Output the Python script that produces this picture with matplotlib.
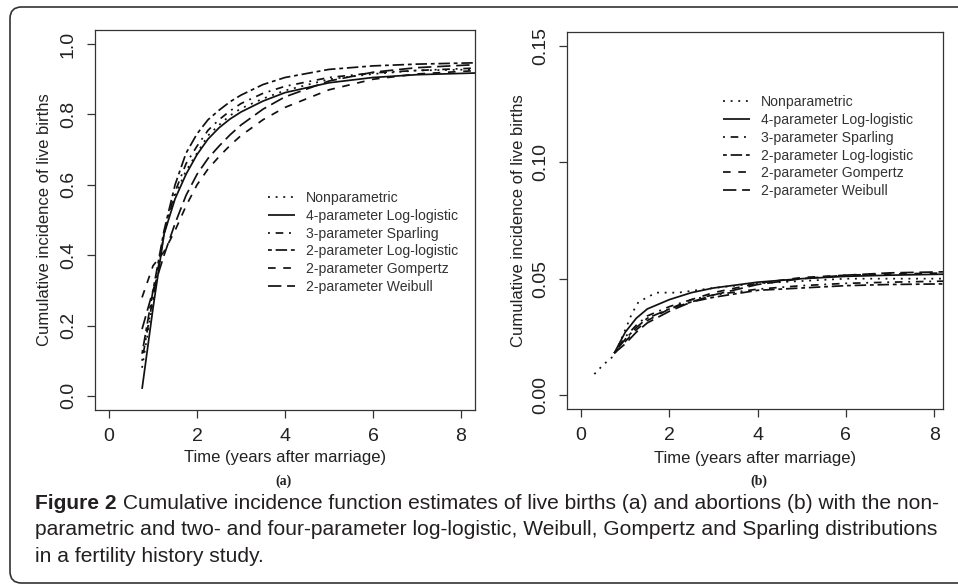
import numpy as np
import matplotlib
matplotlib.use('Agg')
import matplotlib.pyplot as plt
from matplotlib import font_manager
from matplotlib.patches import FancyBboxPatch

mpl = matplotlib
mpl.rcParams['font.family'] = ['Liberation Sans', 'DejaVu Sans']
mpl.rcParams['lines.solid_capstyle'] = 'butt'
mpl.rcParams['lines.dash_capstyle'] = 'butt'

## Data

labels = ['Nonparametric', '4-parameter Log-logistic', '3-parameter Sparling',
          '2-parameter Log-logistic', '2-parameter Gompertz', '2-parameter Weibull']

# panel (a): live births
t_a = [0.75, 1.0, 1.25, 1.5, 1.75, 2.0, 2.25, 2.5, 2.75, 3.0, 3.5, 4.0, 5.0, 6.0, 7.0, 8.4]
a_nonpar = [0.08, 0.27, 0.46, 0.57, 0.64, 0.69, 0.74, 0.77, 0.797, 0.817, 0.845, 0.868, 0.90, 0.915, 0.925, 0.928]
a_ll4 = [0.02, 0.25, 0.46, 0.56, 0.63, 0.686, 0.73, 0.762, 0.787, 0.807, 0.838, 0.862, 0.89, 0.905, 0.913, 0.918]
a_sparling = [0.10, 0.28, 0.46, 0.58, 0.66, 0.71, 0.755, 0.785, 0.81, 0.831, 0.86, 0.88, 0.905, 0.918, 0.925, 0.932]
a_ll2 = [0.12, 0.30, 0.47, 0.60, 0.69, 0.745, 0.785, 0.812, 0.836, 0.855, 0.885, 0.905, 0.928, 0.938, 0.943, 0.947]
a_gompertz = [0.28, 0.37, 0.41, 0.47, 0.54, 0.60, 0.645, 0.68, 0.712, 0.74, 0.785, 0.82, 0.87, 0.90, 0.915, 0.925]
a_weibull = [0.19, 0.30, 0.40, 0.49, 0.57, 0.63, 0.675, 0.71, 0.742, 0.77, 0.815, 0.85, 0.895, 0.92, 0.933, 0.942]

# panel (b): abortions
t_b = [0.75, 1.0, 1.25, 1.5, 2.0, 2.5, 3.0, 4.0, 5.0, 6.0, 7.0, 8.4]
t_b_nonpar = [0.3, 0.5, 0.75, 1.0, 1.15, 1.3, 1.5, 1.7, 2.2, 3.0, 4.0, 5.0, 6.0, 8.4]
b_nonpar = [0.009, 0.013, 0.017, 0.028, 0.035, 0.040, 0.042, 0.044, 0.044, 0.046, 0.048, 0.049, 0.050, 0.050]
b_ll4 = [0.018, 0.027, 0.033, 0.037, 0.041, 0.044, 0.046, 0.0485, 0.050, 0.051, 0.0515, 0.052]
b_sparling = [0.018, 0.025, 0.030, 0.034, 0.038, 0.041, 0.043, 0.0455, 0.047, 0.048, 0.0485, 0.049]
b_ll2 = [0.018, 0.024, 0.029, 0.033, 0.037, 0.040, 0.042, 0.045, 0.046, 0.047, 0.0475, 0.0478]
b_gompertz = [0.018, 0.023, 0.028, 0.032, 0.037, 0.041, 0.044, 0.048, 0.0505, 0.0515, 0.052, 0.0525]
b_weibull = [0.018, 0.022, 0.027, 0.031, 0.036, 0.040, 0.043, 0.0475, 0.050, 0.0515, 0.0525, 0.053]

caption_bold = 'Figure 2'
caption_lines = [' Cumulative incidence function estimates of live births (a) and abortions (b) with the non-',
                 'parametric and two- and four-parameter log-logistic, Weibull, Gompertz and Sparling distributions',
                 'in a fertility history study.']

## Styles (R lty 3, 1, 4, 6, 2, 5)
styles = [(0, (1.1, 3.3)), '-', (0, (1.1, 3.3, 4.4, 3.3)), (0, (2.2, 2.2, 6.6, 2.2)),
          (0, (4.4, 4.4)), (0, (7.7, 3.3))]
ink = '#111111'


def pick_font(cands):
    for c in cands:
        try:
            font_manager.findfont(c, fallback_to_default=False)
            return c
        except Exception:
            pass
    return 'DejaVu Sans'


def style_axes(ax, xlim, ylim, yticks, yfmt):
    ax.set_xlim(xlim)
    ax.set_ylim(ylim)
    ax.set_xticks([0, 2, 4, 6, 8])
    ax.set_yticks(yticks)
    ax.set_yticklabels([yfmt.format(v) for v in yticks], rotation=90, va='center')
    ax.tick_params(direction='out', length=6, width=0.9, color='#333333',
                   labelsize=14, labelcolor='#222222', pad=7)
    for s in ax.spines.values():
        s.set_color('#333333')
        s.set_linewidth(0.9)
    ax.set_xlabel('Time (years after marriage)', fontsize=12, color='#222222')
    ax.set_ylabel('Cumulative incidence of live births', fontsize=12, color='#222222')
    ax.xaxis.label.set_va('center')
    ax.yaxis.label.set_va('center')


fig = plt.figure(figsize=(9.58, 5.87), dpi=100)

# rounded frame, open past the right edge like the source crop
frame = FancyBboxPatch((10 / 958, 4 / 587), 1.05, 576 / 587, boxstyle='round,pad=0,rounding_size=0.012',
                       transform=fig.transFigure, fill=False, edgecolor='#333333', linewidth=1.2,
                       mutation_aspect=958 / 587)
fig.patches.append(frame)

axa = fig.add_axes([95 / 958, 177 / 587, 380 / 958, 380 / 587])
axb = fig.add_axes([567 / 958, 178 / 587, 376 / 958, 377 / 587])

series_a = [(t_a, a_nonpar), (t_a, a_ll4), (t_a, a_sparling), (t_a, a_ll2), (t_a, a_gompertz), (t_a, a_weibull)]
series_b = [(t_b_nonpar, b_nonpar), (t_b, b_ll4), (t_b, b_sparling), (t_b, b_ll2), (t_b, b_gompertz), (t_b, b_weibull)]

for ax, series in [(axa, series_a), (axb, series_b)]:
    for (x, y), ls, lab in zip(series, styles, labels):
        ax.plot(x, y, linestyle=ls, color=ink, lw=1.25, label=lab)

style_axes(axa, (-0.32, 8.32), (-0.04, 1.04), [0.0, 0.2, 0.4, 0.6, 0.8, 1.0], '{:.1f}')
style_axes(axb, (-0.32, 8.2), (-0.006, 0.156), [0.0, 0.05, 0.10, 0.15], '{:.2f}')
axa.xaxis.set_label_coords(0.5, -0.126)
axa.yaxis.set_label_coords(-0.132, 0.5)
axb.xaxis.set_label_coords(0.5, -0.13)
axb.yaxis.set_label_coords(-0.13, 0.5)

for ax, pos in [(axa, (0.455, 0.441)), (axb, (0.415, 0.696))]:
    leg = ax.legend(loc='center left', bbox_to_anchor=pos, frameon=False, fontsize=10.1,
                    handlelength=1.9, handletextpad=0.8, labelspacing=0.27,
                    borderpad=0, borderaxespad=0)
    for t in leg.get_texts():
        t.set_color('#333333')

fig.text(284 / 958, 1 - 481 / 587, '(a)', family=['Liberation Serif', 'DejaVu Serif'],
         weight='bold', fontsize=10, ha='center', va='center', color='#222222')
fig.text(759 / 958, 1 - 481 / 587, '(b)', family=['Liberation Serif', 'DejaVu Serif'],
         weight='bold', fontsize=10, ha='center', va='center', color='#222222')

# caption, sized so that the first line spans 35..940 px
cap_font = pick_font(['Liberation Sans Narrow', 'Liberation Sans'])
baselines = [509, 535, 562]
renderer = fig.canvas.get_renderer()
probe_b = fig.text(0, 0, caption_bold, family=cap_font, weight='bold', fontsize=10)
probe_r = fig.text(0, 0, caption_lines[0], family=cap_font, fontsize=10)
w10 = probe_b.get_window_extent(renderer).width + probe_r.get_window_extent(renderer).width
probe_b.remove()
probe_r.remove()
cap_size = 10 * 905 / w10

tb = fig.text(35 / 958, 1 - baselines[0] / 587, caption_bold, family=cap_font, weight='bold',
              fontsize=cap_size, va='baseline', color='#231f20')
bw = tb.get_window_extent(renderer).width
fig.text((35 + bw) / 958, 1 - baselines[0] / 587, caption_lines[0], family=cap_font,
         fontsize=cap_size, va='baseline', color='#231f20')
for line, yb in zip(caption_lines[1:], baselines[1:]):
    fig.text(35 / 958, 1 - yb / 587, line, family=cap_font, fontsize=cap_size,
             va='baseline', color='#231f20')

fig.savefig('out.png', dpi=100)
